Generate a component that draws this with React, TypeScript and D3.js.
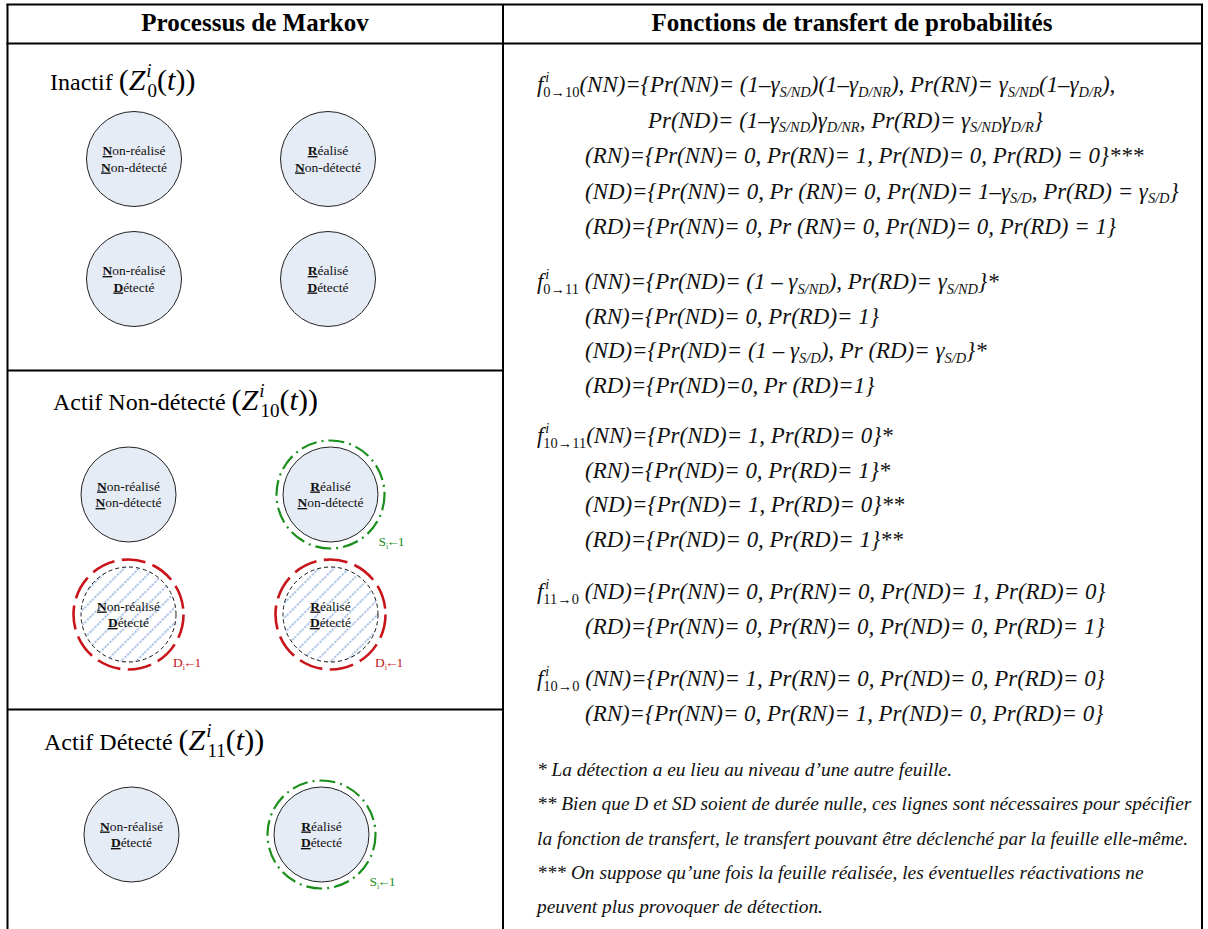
import React, { useRef, useEffect } from 'react';
import * as d3 from 'd3';

const W = 1208;
const H = 929;
const FONT = "'Liberation Serif', 'Times New Roman', Times, serif";

// ---- contenu ----
const headers = ['Processus de Markov', 'Fonctions de transfert de probabilités'];

const panelNames = ['Inactif', 'Actif Non-détecté', 'Actif Détecté'];
const panelSubs = ['0', '10', '11'];

const realisation = ['Non-réalisé', 'Réalisé'];
const detection = ['Non-détecté', 'Détecté'];

// [réalisé, détecté, marquage]
const inactifStates = [[0, 0, 'plain'], [1, 0, 'plain'], [0, 1, 'plain'], [1, 1, 'plain']];
const nonDetecteStates = [[0, 0, 'plain'], [1, 0, 'signal'], [0, 1, 'detect'], [1, 1, 'detect']];
const detecteStates = [[0, 1, 'plain'], [1, 1, 'signal']];

const signalLabel = ['S', 'i', '←', '1'];
const detectLabel = ['D', 'i', '←', '1'];

// _[..] indice, ^[..] exposant
const f0to10 = [
  'f^[i]_[0→10](NN)={Pr(NN)= (1–γ_[S/ND])(1–γ_[D/NR]), Pr(RN)= γ_[S/ND](1–γ_[D/R]),',
  'Pr(ND)= (1–γ_[S/ND])γ_[D/NR], Pr(RD)= γ_[S/ND]γ_[D/R]}',
  '(RN)={Pr(NN)= 0, Pr(RN)= 1, Pr(ND)= 0, Pr(RD) = 0}***',
  '(ND)={Pr(NN)= 0, Pr (RN)= 0, Pr(ND)= 1–γ_[S/D], Pr(RD) = γ_[S/D]}',
  '(RD)={Pr(NN)= 0, Pr (RN)= 0, Pr(ND)= 0, Pr(RD) = 1}',
];
const f0to11 = [
  'f^[i]_[0→11] (NN)={Pr(ND)= (1 – γ_[S/ND]), Pr(RD)= γ_[S/ND]}*',
  '(RN)={Pr(ND)= 0, Pr(RD)= 1}',
  '(ND)={Pr(ND)= (1 – γ_[S/D]), Pr (RD)= γ_[S/D]}*',
  '(RD)={Pr(ND)=0, Pr (RD)=1}',
];
const f10to11 = [
  'f^[i]_[10→11](NN)={Pr(ND)= 1, Pr(RD)= 0}*',
  '(RN)={Pr(ND)= 0, Pr(RD)= 1}*',
  '(ND)={Pr(ND)= 1, Pr(RD)= 0}**',
  '(RD)={Pr(ND)= 0, Pr(RD)= 1}**',
];
const f11to0 = [
  'f^[i]_[11→0] (ND)={Pr(NN)= 0, Pr(RN)= 0, Pr(ND)= 1, Pr(RD)= 0}',
  '(RD)={Pr(NN)= 0, Pr(RN)= 0, Pr(ND)= 0, Pr(RD)= 1}',
];
const f10to0 = [
  'f^[i]_[10→0] (NN)={Pr(NN)= 1, Pr(RN)= 0, Pr(ND)= 0, Pr(RD)= 0}',
  '(RN)={Pr(NN)= 0, Pr(RN)= 1, Pr(ND)= 0, Pr(RD)= 0}',
];

const footnotes = [
  '* La détection a eu lieu au niveau d’une autre feuille.',
  '** Bien que D et SD soient de durée nulle, ces lignes sont nécessaires pour spécifier',
  'la fonction de transfert, le transfert pouvant être déclenché par la feuille elle-même.',
  '*** On suppose qu’une fois la feuille réalisée, les éventuelles réactivations ne',
  'peuvent plus provoquer de détection.',
];

// ---- mise en page ----
const colDiv = 503;
const panels = [
  { states: inactifStates, titleX: 50, titleY: 90, cols: [134, 328], rows: [159, 279] },
  { states: nonDetecteStates, titleX: 53, titleY: 410, cols: [128.5, 330.5], rows: [494.5, 614.5] },
  { states: detecteStates, titleX: 44, titleY: 750, cols: [131.5, 321.5], rows: [834.5, 834.5] },
];
const panelLines = [370.5, 709.5];
const R = 47.5;

const formulaBlocks = [f0to10, f0to11, f10to11, f11to0, f10to0];
const blockTop = [92, 289, 443, 599, 686];
const blockStep = [35.5, 34.5, 34.5, 34.5, 34.5];
const noteTop = 776;
const noteStep = 34.3;

const GREEN = '#1b8f1b';
const RED = '#c8141a';

type Seg = { t: string; k: 'n' | 'sub' | 'sup' };
const parse = (s: string): Seg[] => {
  const out: Seg[] = [];
  const re = /([_^])\[([^\]]*)\]/g;
  let last = 0;
  let m: RegExpExecArray | null;
  while ((m = re.exec(s))) {
    if (m.index > last) out.push({ t: s.slice(last, m.index), k: 'n' });
    out.push({ t: m[2], k: m[1] === '_' ? 'sub' : 'sup' });
    last = re.lastIndex;
  }
  if (last < s.length) out.push({ t: s.slice(last), k: 'n' });
  return out;
};

const richSpans = (segs: Seg[], size: number, small: number) => {
  let off = 0;
  return segs.map((s, i) => {
    const prev = segs[i - 1];
    if (s.k === 'n') {
      const dy = -off;
      off = 0;
      return <tspan key={i} fontSize={size} dy={dy}>{s.t}</tspan>;
    }
    if (s.k === 'sup') {
      const to = -size * 0.45;
      const dy = to - off;
      off = to;
      return <tspan key={i} fontSize={small} dx={2} dy={dy} fontStyle="italic">{s.t}</tspan>;
    }
    const to = size * 0.2;
    const dy = to - off;
    off = to;
    const back = prev && prev.k === 'sup' ? -small * 0.28 * prev.t.length - 2 : 0;
    const upright = /^[0-9→]+$/.test(s.t);
    return (
      <tspan key={i} fontSize={small} dx={back || undefined} dy={dy} fontStyle={upright ? 'normal' : undefined}>
        {s.t}
      </tspan>
    );
  });
};

const StateText = ({ x, y, r, d }: { x: number; y: number; r: number; d: number }) => {
  const lines = [realisation[r], detection[d]];
  return (
    <g>
      {lines.map((l, i) => (
        <text key={i} x={x} y={y - 4 + i * 16.5} textAnchor="middle" fontSize={13.5} fill="#111">
          <tspan fontWeight="bold" textDecoration="underline">{l[0]}</tspan>
          <tspan>{l.slice(1)}</tspan>
        </text>
      ))}
    </g>
  );
};

const Tag = ({ x, y, parts, color }: { x: number; y: number; parts: string[]; color: string }) => (
  <text x={x} y={y} fontSize={13.5} fill={color}>
    <tspan>{parts[0]}</tspan>
    <tspan fontSize={8} dy={3}>{parts[1]}</tspan>
    <tspan dx={-2} dy={-3}>{parts[2]}</tspan>
    <tspan dx={-2}>{parts[3]}</tspan>
  </text>
);

const Title = ({ x, y, name, sub }: { x: number; y: number; name: string; sub: string }) => (
  <text x={x} y={y} fontSize={24} fill="#000">
    <tspan>{name} </tspan>
    <tspan fontSize={30}>(</tspan>
    <tspan fontSize={30} fontStyle="italic">Z</tspan>
    <tspan fontSize={19} fontStyle="italic" dy={-13} dx={1}>i</tspan>
    <tspan fontSize={19} dx={-4} dy={20}>{sub}</tspan>
    <tspan fontSize={30} dy={-7}>(</tspan>
    <tspan fontSize={30} fontStyle="italic">t</tspan>
    <tspan fontSize={30}>))</tspan>
  </text>
);

const App = () => {
  const ref = useRef<SVGSVGElement>(null);

  useEffect(() => {
    const root = d3.select(ref.current);
    const fitGroup = (cls: string, refId: string, target: number) => {
      const el = root.select<SVGTextElement>('#' + refId).node();
      if (!el) return;
      const k = target / el.getBBox().width;
      root.selectAll('.' + cls).attr('transform', `scale(${k},1)`);
    };
    fitGroup('formula', 'fref', 594);
    fitGroup('note', 'nref', 656);
  }, []);

  return (
    <svg
      ref={ref}
      width={W}
      height={H}
      viewBox={`0 0 ${W} ${H}`}
      style={{ position: 'absolute', left: 0, top: 0, background: '#fff' }}
      fontFamily={FONT}
    >
      <defs>
        <pattern id="hatch" patternUnits="userSpaceOnUse" width={10.6} height={10.6} patternTransform="rotate(45)">
          <line x1={2} y1={0} x2={2} y2={10.6} stroke="#adc3e4" strokeWidth={2} strokeDasharray="2.4 1.3" />
        </pattern>
      </defs>

      {/* cadre */}
      <g stroke="#000" strokeWidth={2} fill="none">
        <line x1={6.5} y1={4.5} x2={1203} y2={4.5} />
        <line x1={6.5} y1={43.5} x2={1203} y2={43.5} />
        <line x1={7.5} y1={4} x2={7.5} y2={H} />
        <line x1={colDiv} y1={4} x2={colDiv} y2={H} />
        <line x1={1202} y1={4} x2={1202} y2={H} />
        {panelLines.map((y) => (
          <line key={y} x1={7} y1={y} x2={colDiv} y2={y} />
        ))}
      </g>

      <text x={255} y={31} textAnchor="middle" fontWeight="bold" fontSize={25}>{headers[0]}</text>
      <text x={852} y={31} textAnchor="middle" fontWeight="bold" fontSize={25}>{headers[1]}</text>

      {panels.map((p, pi) => {
        const x = d3.scalePoint<number>().domain([0, 1]).range(p.cols as [number, number]);
        const y = d3.scalePoint<number>().domain([0, 1]).range(p.rows as [number, number]);
        const rowOf = (i: number) => (p.states.length > 2 ? Math.floor(i / 2) : 0);
        return (
          <g key={pi}>
            <Title x={p.titleX} y={p.titleY} name={panelNames[pi]} sub={panelSubs[pi]} />
            {p.states.map((s, i) => {
              const cx = x(s[0] as number)!;
              const cy = y(rowOf(i))!;
              const mark = s[2];
              return (
                <g key={i}>
                  {mark === 'detect' ? (
                    <>
                      <circle cx={cx} cy={cy} r={R} fill="#fff" />
                      <circle cx={cx} cy={cy} r={R} fill="url(#hatch)" stroke="#111" strokeWidth={1} strokeDasharray="4 3" />
                      <circle cx={cx} cy={cy} r={55} fill="none" stroke={RED} strokeWidth={2.6} strokeDasharray="24 7.5" />
                      <Tag x={cx + 44.5} y={cy + 52.5} parts={detectLabel} color={RED} />
                    </>
                  ) : (
                    <circle cx={cx} cy={cy} r={R} fill="#e6ecf6" stroke="#222" strokeWidth={1} />
                  )}
                  {mark === 'signal' && (
                    <>
                      <circle cx={cx} cy={cy} r={54} fill="none" stroke={GREEN} strokeWidth={2.2} strokeDasharray="16 5 2 5" />
                      <Tag x={cx + 48} y={cy + 51} parts={signalLabel} color={GREEN} />
                    </>
                  )}
                  <StateText x={cx} y={cy} r={s[0] as number} d={s[1] as number} />
                </g>
              );
            })}
          </g>
        );
      })}

      {/* fonctions de transfert */}
      <g fontStyle="italic" fill="#111">
        {formulaBlocks.map((block, b) =>
          block.map((line, j) => {
            const lx = j === 0 ? 537 : b === 0 && j === 1 ? 648 : 585;
            const ly = blockTop[b] + j * blockStep[b];
            return (
              <g key={`${b}-${j}`} transform={`translate(${lx},${ly})`}>
                <text className="formula" id={b === 0 && j === 3 ? 'fref' : undefined} x={0} y={0} style={{ whiteSpace: 'pre' }}>
                  {richSpans(parse(line), 23, 14.5)}
                </text>
              </g>
            );
          })
        )}
        {footnotes.map((n, i) => (
          <g key={i} transform={`translate(537,${noteTop + i * noteStep})`}>
            <text className="note" id={i === 1 ? 'nref' : undefined} x={0} y={0} fontSize={18}>{n}</text>
          </g>
        ))}
      </g>
    </svg>
  );
};

export default App;
